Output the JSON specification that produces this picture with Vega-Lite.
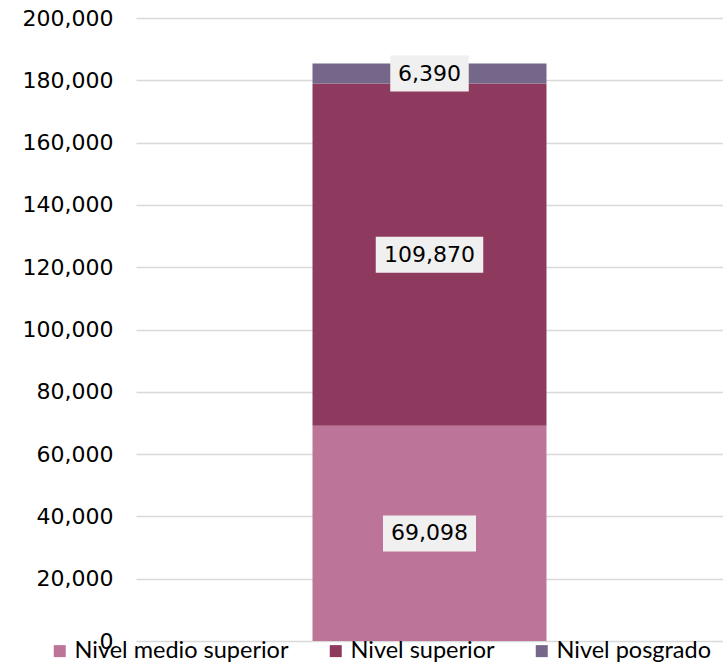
{
  "$schema": "https://vega.github.io/schema/vega-lite/v6.json",
  "width": 587,
  "height": 623,
  "autosize": {"type": "none"},
  "padding": {"left": 136, "top": 18, "right": 0, "bottom": 23},
  "background": "#ffffff",
  "config": {"view": {"stroke": null}, "axisY": {"format": ",.0f"}},
  "data": {
    "values": [
      {"cat": "Total", "nivel": "Nivel medio superior", "orden": 1, "valor": 69098},
      {"cat": "Total", "nivel": "Nivel superior", "orden": 2, "valor": 109870},
      {"cat": "Total", "nivel": "Nivel posgrado", "orden": 3, "valor": 6390}
    ]
  },
  "transform": [
    {"stack": "valor", "groupby": ["cat"], "sort": [{"field": "orden"}], "as": ["v0", "v1"]},
    {"calculate": "(datum.v0 + datum.v1) / 2", "as": "mid"},
    {"calculate": "datum.mid - 5780", "as": "b0"},
    {"calculate": "datum.mid + 5780", "as": "b1"},
    {"calculate": "format(datum.valor, ',')", "as": "label"},
    {"calculate": "length(datum.label) * 14.5 + 6", "as": "bw"}
  ],
  "encoding": {
    "x": {"field": "cat", "type": "nominal", "axis": null, "scale": {"paddingInner": 0, "paddingOuter": 0}}
  },
  "layer": [
    {
      "mark": {"type": "bar", "width": 234},
      "encoding": {
        "y": {
          "field": "v0",
          "type": "quantitative",
          "scale": {"domain": [0, 200000]},
          "axis": {
            "values": [0, 20000, 40000, 60000, 80000, 100000, 120000, 140000, 160000, 180000, 200000],
            "format": ",.0f",
            "title": null,
            "labelFont": "DejaVu Sans",
            "labelFontSize": 22,
            "labelColor": "#000000",
            "ticks": false,
            "domain": false,
            "labelPadding": 23,
            "gridColor": "#D9D9D9",
            "gridWidth": 1.3
          }
        },
        "y2": {"field": "v1"},
        "color": {
          "field": "nivel",
          "type": "nominal",
          "scale": {
            "domain": ["Nivel medio superior", "Nivel superior", "Nivel posgrado"],
            "range": ["#BD7499", "#8E3A5E", "#75678A"]
          },
          "legend": {
            "orient": "none",
            "legendX": -88,
            "legendY": 621,
            "direction": "horizontal",
            "title": null,
            "symbolType": "square",
            "symbolSize": 144,
            "symbolStrokeWidth": 0,
            "labelFont": "Lato",
            "labelFontSize": 23.5,
            "labelColor": "#000000",
            "labelOffset": 3,
            "labelLimit": 0,
            "columnPadding": 35,
            "padding": 0
          }
        }
      }
    },
    {
      "mark": {"type": "rect", "fill": "#F0F0F0", "width": {"expr": "datum.bw"}},
      "encoding": {
        "y": {"field": "b0", "type": "quantitative"},
        "y2": {"field": "b1"}
      }
    },
    {
      "mark": {"type": "text", "font": "DejaVu Sans", "fontSize": 22, "color": "#000000"},
      "encoding": {
        "y": {"field": "mid", "type": "quantitative"},
        "text": {"field": "label"}
      }
    }
  ]
}
